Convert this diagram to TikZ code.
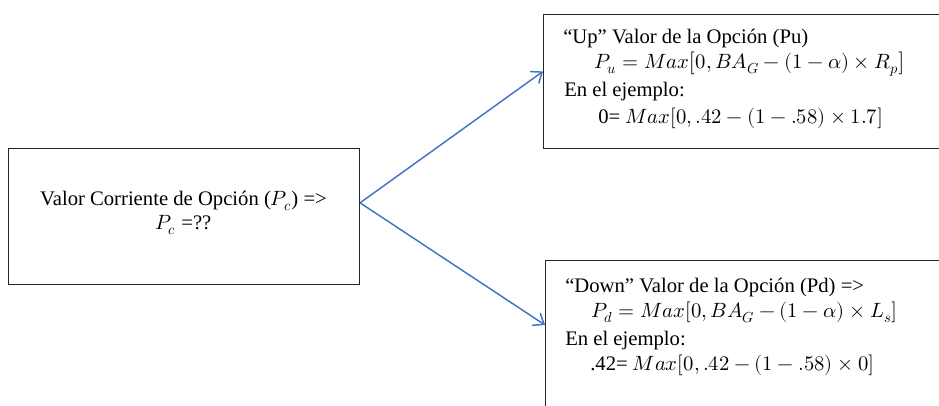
\documentclass[tikz,border=0pt]{standalone}
\usepackage{fontspec}
\usepackage{unicode-math}
\setmainfont{Liberation Serif}
\usetikzlibrary{arrows.meta,calc}
\definecolor{linkblue}{RGB}{68,114,196}
\begin{document}
\begin{tikzpicture}[x=0.75pt,y=-0.75pt,
  frame/.style={draw=black!85,line width=0.8pt,rectangle,inner sep=0pt,anchor=north west},
  txt/.style={anchor=base west,inner sep=0pt,font=\rmfamily\fontsize{15.5}{18}\selectfont},
  ctxt/.style={anchor=base,inner sep=0pt,font=\rmfamily\fontsize{15.5}{18}\selectfont},
  branch/.style={draw=linkblue,line width=1.1pt,-{Straight Barb[length=7pt,width=11pt]}}]
\useasboundingbox (0,0) rectangle (939,405);
\clip (0,0) rectangle (939,405);

% current option value
\node[frame,minimum width=263.25pt,minimum height=102pt] (cur) at (8,148) {};
\node[ctxt] (curA) at (183.5,205) {Valor Corriente de Opción ($P_c$) =>};
\node[ctxt] (curB) at (183.5,229) {$P_c$ =??};

% up state
\node[frame,minimum width=315pt,minimum height=100.5pt] (up) at (543,14) {};
\node[txt] (upA) at (563,43) {“Up” Valor de la Opción (Pu)};
\node[txt] (upB) at (594,68) {$P_u = Max\bigl[0, BA_G - (1-\alpha)\times R_p\bigr]$};
\node[txt] (upC) at (564,96) {En el ejemplo:};
\node[txt] (upD) at (598,123) {0= $Max[0, .42 - (1-.58)\times 1.7]$};

% down state
\node[frame,minimum width=315pt,minimum height=120pt] (down) at (545,260) {};
\node[txt] (dnA) at (565,292) {“Down” Valor de la Opción (Pd) =>};
\node[txt] (dnB) at (591,317) {$P_d = Max[0, BA_G - (1-\alpha)\times L_s]$};
\node[txt] (dnC) at (565,345) {En el ejemplo:};
\node[txt] (dnD) at (590,370) {.42= $Max[0, .42 - (1-.58)\times 0]$};

% branches
\coordinate (fork) at ($(cur.north east)!0.40!(cur.south east)$);
\coordinate (upIn) at ($(up.north west)!0.425!(up.south west)$);
\coordinate (dnIn) at (down.west |- 0,325);
\draw[branch] (fork) -- (upIn);
\draw[branch] (fork) -- (dnIn);
\end{tikzpicture}
\end{document}
